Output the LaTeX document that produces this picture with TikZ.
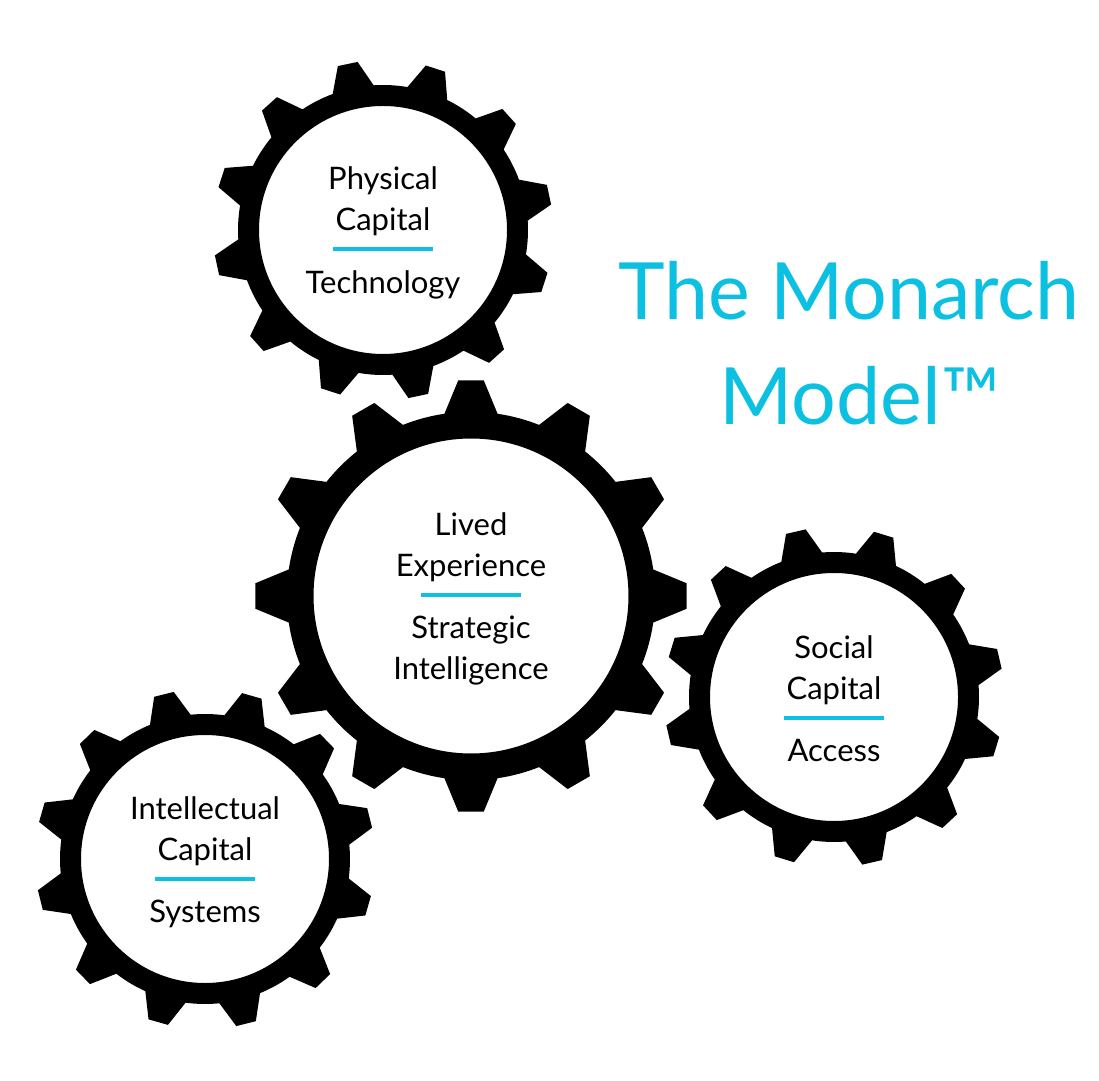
\documentclass[tikz,border=0pt]{standalone}
\usepackage{fontspec}
\setmainfont{Lato}
\usepackage{tikz}
\usetikzlibrary{positioning,calc}
\definecolor{monarch}{HTML}{0CC0E2}

% gear at (x,y), scale, angle of first tooth
\newcommand\monarchgear[4]{%
  \begin{scope}[shift={(#1,#2)},scale=#3]
    \fill[even odd rule] ({#4-8.3}:145)
      \foreach \k in {0,...,11}{
        -- ({#4+30*\k-3.4}:170) -- ({#4+30*\k+3.4}:170) -- ({#4+30*\k+8.3}:145)
        arc[start angle={#4+30*\k+8.3}, end angle={#4+30*\k+21.7}, radius=145]
      } -- cycle
      (0,0) circle[radius=124];
  \end{scope}}

\begin{document}
\begin{tikzpicture}[x=1pt,y=1pt,
  geartext/.style={font=\fontsize{31}{41}\selectfont,align=center,inner sep=0pt},
  titletext/.style={font=\fontsize{79}{105}\selectfont,text=monarch,inner sep=0pt,anchor=base},
  rulebar/.style={monarch,line width=4pt}]
\useasboundingbox (0,0) rectangle (1099,1080);

\monarchgear{383}{850}{1}{12}
\monarchgear{471}{484}{1.27}{0}
\monarchgear{834}{383}{1}{13}
\monarchgear{205}{221}{1}{14}

\node[titletext] (title) at (849,760) {The Monarch};
\node[titletext] (model) at (860,655) {Model™};

% physical capital
\coordinate (physrule) at (383,831);
\draw[rulebar] ($(physrule)+(-50,0)$) -- ($(physrule)+(50,0)$);
\node[geartext,anchor=south] (phys) at ($(physrule)+(0,13)$) {Physical\\Capital};
\node[geartext,anchor=north] (tech) at ($(physrule)+(0,-21)$) {Technology};

% lived experience
\coordinate (livedrule) at (471,485);
\draw[rulebar] ($(livedrule)+(-50,0)$) -- ($(livedrule)+(50,0)$);
\node[geartext,anchor=south] (lived) at ($(livedrule)+(0,13)$) {Lived\\Experience};
\node[geartext,anchor=north] (strat) at ($(livedrule)+(0,-21)$) {Strategic\\Intelligence};

% social capital
\coordinate (socrule) at (834,362);
\draw[rulebar] ($(socrule)+(-50,0)$) -- ($(socrule)+(50,0)$);
\node[geartext,anchor=south] (social) at ($(socrule)+(0,13)$) {Social\\Capital};
\node[geartext,anchor=north] (access) at ($(socrule)+(0,-21)$) {Access};

% intellectual capital
\coordinate (intrule) at (205,201);
\draw[rulebar] ($(intrule)+(-50,0)$) -- ($(intrule)+(50,0)$);
\node[geartext,anchor=south] (intel) at ($(intrule)+(0,13)$) {Intellectual\\Capital};
\node[geartext,anchor=north] (systems) at ($(intrule)+(0,-21)$) {Systems};
\end{tikzpicture}
\end{document}
